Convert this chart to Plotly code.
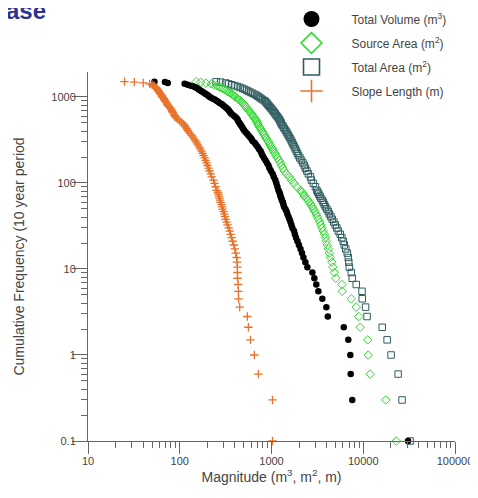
import plotly.graph_objects as go

# cumulative frequency (10 year period), shared by all four series
FREQ = [0.1, 0.3, 0.6, 1.0, 1.5, 2.1, 2.8, 3.6, 4.5, 5.5,
        6.6, 7.8, 9.1, 10.5, 12, 13.6, 15.3, 17.1, 19, 21,
        23.1, 25.3, 27.6, 30, 32.5, 35.1, 37.8, 40.6, 43.5, 46.5,
        49.6, 52.8, 56.1, 59.5, 63, 66.6, 70.3, 74.1, 78, 82,
        90.3, 99, 108.1, 117.6, 127.5, 137.8, 148.5, 159.6, 171.1, 183,
        195.3, 208, 221.1, 234.6, 248.5, 262.8, 277.5, 292.6, 308.1, 324,
        340.3, 357, 374.1, 391.6, 409.5, 427.8, 446.5, 465.6, 485.1, 505,
        525.3, 546, 567.1, 588.6, 610.5, 632.8, 655.5, 678.6, 702.1, 726,
        750.3, 775, 800.1, 825.6, 851.5, 877.8, 904.5, 931.6, 959.1, 987,
        1015.3, 1044, 1073.1, 1102.6, 1132.5, 1162.8, 1193.5, 1224.6, 1256.1, 1288,
        1320.3, 1353, 1386.1, 1419.6, 1453.5, 1487.8,
        1505.1]

TOTAL_VOLUME = [30800, 7590, 7300, 7230, 6870, 6140, 4110, 3960, 3580, 3240,
                3080, 2930, 2790, 2460, 2340, 2230, 2150, 2070, 1990, 1920,
                1850, 1800, 1760, 1690, 1650, 1610, 1570, 1530, 1490, 1460,
                1420, 1370, 1350, 1330, 1300, 1280, 1250, 1240, 1220, 1190,
                1160, 1130, 1100, 1060, 1030, 988, 951, 927, 893, 861,
                829, 798, 778, 759, 731, 705, 679, 654, 621, 606,
                584, 562, 542, 521, 502, 490, 478, 466, 455, 444,
                433, 427, 417, 401, 386, 367, 358, 349, 341, 332,
                320, 308, 297, 286, 272, 262, 252, 240, 228, 217,
                209, 202, 194, 187, 180, 173, 167, 161, 157, 149,
                142, 132, 122, 113, 74, 69,
                53]

SOURCE_AREA = [22900, 17600, 11900, 11300, 11200, 9270, 8930, 8390, 7410, 5910,
               5850, 5020, 4840, 4660, 4550, 4380, 4270, 4170, 4060, 3960,
               3870, 3770, 3670, 3540, 3450, 3370, 3240, 3160, 3080, 2970,
               2860, 2790, 2690, 2590, 2500, 2400, 2280, 2230, 2150, 2070,
               1890, 1760, 1650, 1570, 1460, 1380, 1330, 1280, 1250, 1210,
               1160, 1120, 1090, 1050, 1030, 988, 964, 940, 917, 883,
               861, 840, 819, 798, 778, 759, 741, 722, 713, 695,
               687, 670, 654, 637, 621, 606, 591, 577, 562, 548,
               535, 521, 509, 497, 484, 472, 455, 438, 427, 411,
               396, 386, 372, 358, 345, 332, 320, 308, 293, 279,
               265, 252, 234, 220, 192, 169,
               151]

TOTAL_AREA = [32400, 26500, 24000, 20100, 18200, 16100, 11000, 10600, 9750, 9700,
              8390, 7590, 7410, 7050, 6950, 6870, 6700, 6450, 6210, 6060,
              5840, 5620, 5350, 5150, 4960, 4780, 4600, 4440, 4270, 4170,
              4010, 3870, 3770, 3670, 3580, 3450, 3370, 3280, 3200, 3120,
              3010, 2860, 2720, 2660, 2520, 2430, 2340, 2280, 2200, 2120,
              2040, 1970, 1920, 1870, 1820, 1780, 1730, 1690, 1650, 1610,
              1570, 1530, 1490, 1460, 1420, 1380, 1350, 1320, 1280, 1270,
              1240, 1220, 1190, 1160, 1130, 1100, 1080, 1050, 1030, 1000,
              975, 951, 927, 905, 883, 861, 840, 798, 769, 741,
              713, 687, 654, 621, 591, 562, 535, 509, 484, 455,
              427, 396, 367, 341, 316, 279,
              249]

SLOPE_LENGTH = [1025, 1025, 720, 650, 590, 560, 545, 450, 438, 435,
                432, 427, 425, 425, 421, 417, 408, 398, 388, 377,
                368, 358, 350, 342, 332, 324, 316, 311, 307, 300,
                293, 289, 285, 278, 275, 271, 268, 264, 261, 252,
                246, 239, 233, 223, 218, 211, 206, 201, 196, 191,
                187, 182, 178, 173, 167, 163, 157, 153, 149, 144,
                139, 135, 130, 125, 122, 119, 116, 113, 110, 105,
                100, 96, 92, 89, 88, 86, 84, 83, 82, 80,
                78, 76, 74, 73, 72, 70, 69, 68, 67, 65,
                64, 64, 62, 61, 60, 59, 58, 57, 56, 55,
                53, 52, 50, 47, 40, 32,
                25]

Y_TICKS = [0.1, 1, 10, 100, 1000]
Y_LABELS = ["0.1", "1", "10", "100", "1000"]
X_TICKS = [10, 100, 1000, 10000, 100000]
X_LABELS = ["10", "100", "1000", "10000", "100000"]

FONT = "Arial, Liberation Sans, sans-serif"
AXIS_COL = "#666666"

series = [
    # name, values, symbol, colour, plot marker, legend rank
    ("Total Area (m<sup>2</sup>)", TOTAL_AREA, "square-open", "#2f5d60",
     dict(size=6.5, line=dict(width=1)), 3),
    ("Source Area (m<sup>2</sup>)", SOURCE_AREA, "diamond-open", "#2fd92f",
     dict(size=6.5, line=dict(width=1)), 2),
    ("Total Volume (m<sup>3</sup>)", TOTAL_VOLUME, "circle", "#000000",
     dict(size=6.5), 1),
    ("Slope Length (m)", SLOPE_LENGTH, "cross-thin", "#e8732a",
     dict(size=6, line=dict(width=1.3)), 4),
]

fig = go.Figure()

for name, vals, sym, col, mk, rank in series:
    m = dict(symbol=sym, color=col, **mk)
    if "line" in m:
        m["line"] = dict(color=col, **mk["line"])
    fig.add_trace(go.Scatter(
        x=vals, y=FREQ, mode="markers", marker=m,
        showlegend=False, cliponaxis=False, hoverinfo="x+y",
    ))
    # legend-only entry with a big key symbol
    lm = dict(symbol=sym, color=col, size=16)
    if sym != "circle":
        lm["line"] = dict(color=col, width=1.6)
    fig.add_trace(go.Scatter(
        x=[None], y=[None], mode="markers", marker=lm, name=name,
        legendrank=rank, legendgroup=name,
    ))

fig.update_xaxes(
    type="log", range=[1, 5], showgrid=False, zeroline=False, automargin=False,
    showline=True, linecolor=AXIS_COL, linewidth=1,
    ticks="outside", ticklen=12, tickcolor=AXIS_COL, tickwidth=1,
    tickvals=X_TICKS, ticktext=X_LABELS, ticklabelstandoff=-2,
    tickfont=dict(size=11, color="#444444", family=FONT),
    minor=dict(ticks="outside", ticklen=6, tickcolor=AXIS_COL, dtick="D1", showgrid=False),
    title=dict(text="Magnitude (m<sup>3</sup>, m<sup>2</sup>, m)",
               font=dict(size=14, color="#444444", family=FONT), standoff=1),
)
fig.update_yaxes(
    type="log", range=[-1, 3.29], showgrid=False, zeroline=False, automargin=False,
    showline=True, linecolor=AXIS_COL, linewidth=1,
    ticks="outside", ticklen=15, tickcolor=AXIS_COL, tickwidth=1,
    tickvals=Y_TICKS, ticktext=Y_LABELS, ticklabelstandoff=-6,
    tickfont=dict(size=11, color="#444444", family=FONT),
    minor=dict(ticks="outside", ticklen=6, tickcolor=AXIS_COL, dtick="D1", showgrid=False),
    title=dict(text="Cumulative Frequency (10 year period",
               font=dict(size=14, color="#444444", family=FONT), standoff=23),
)

# the page puts the figure 8px in from the top-left corner, so the
# figure is 8px smaller and the margins are shifted to compensate
fig.update_layout(
    width=470, height=490,
    margin=dict(l=80, r=23, t=64, b=57, autoexpand=False),
    paper_bgcolor="white", plot_bgcolor="white",
    font=dict(family=FONT, color="#444444"),
    legend=dict(
        x=0.500, y=1.183, xanchor="left", yanchor="top",
        itemwidth=70, tracegroupgap=5, bgcolor="rgba(0,0,0,0)",
        font=dict(size=12, color="#444444", family=FONT),
    ),
    annotations=[dict(
        text="<b>ase</b>", xref="paper", yref="paper",
        x=-0.230, y=1.1244, xanchor="left", yanchor="bottom", showarrow=False,
        font=dict(size=24, color="#2e3192", family=FONT),
    )],
)

fig.write_html("out.html")
